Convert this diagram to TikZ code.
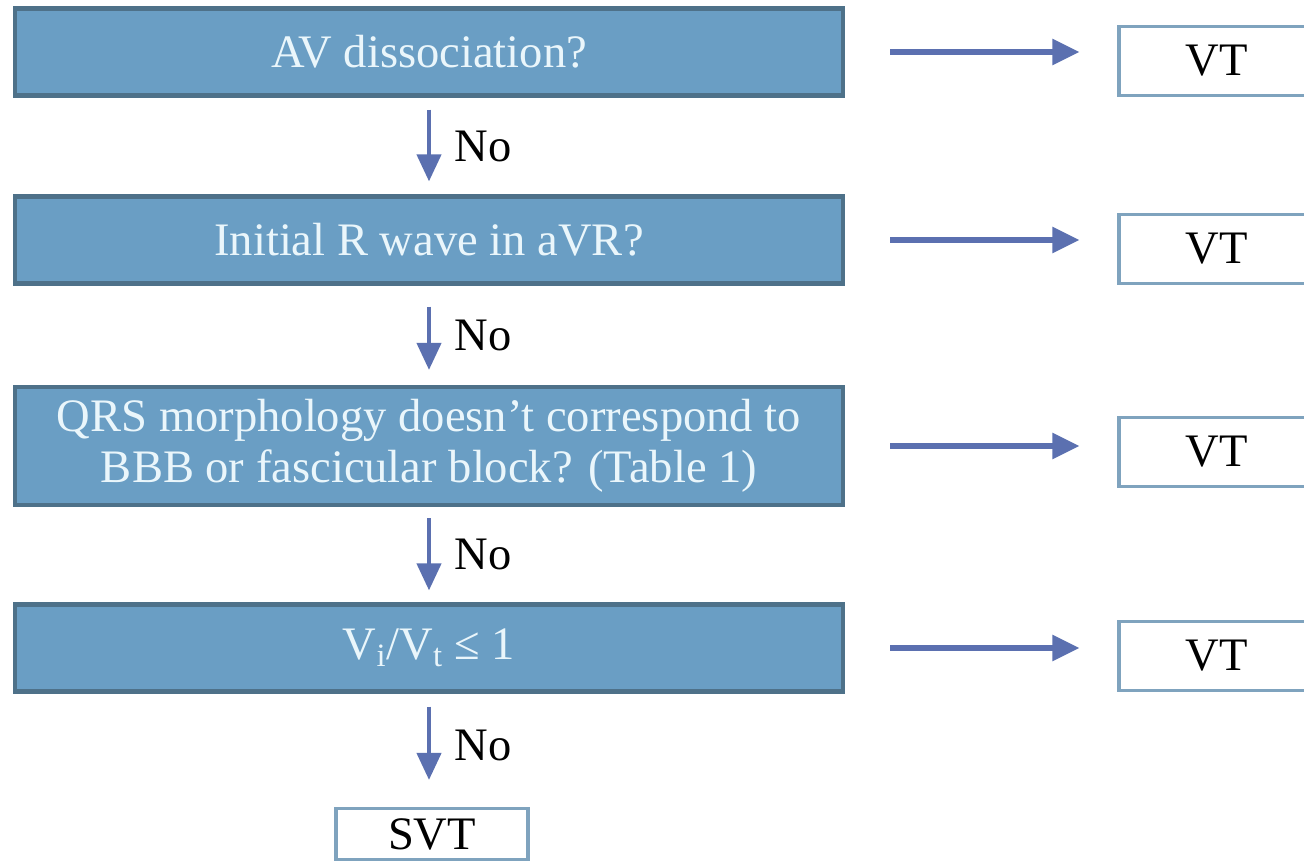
\documentclass[tikz,border=0pt]{standalone}
\usepackage{fontspec}
\setmainfont{Liberation Serif}
\usetikzlibrary{arrows.meta,positioning,calc}

\definecolor{boxfill}{HTML}{6A9EC4}
\definecolor{boxedge}{HTML}{4E7189}
\definecolor{boxtext}{HTML}{EAF6FB}
\definecolor{resedge}{HTML}{7FA3BE}
\definecolor{arrowblue}{HTML}{5B70B0}

\begin{document}
\begin{tikzpicture}[x=0.02cm,y=-0.02cm,
    font=\fontsize{26.5}{29}\selectfont,
    question/.style={draw=boxedge,fill=boxfill,line width=2.4pt,text=boxtext,
        minimum width=16.56cm,minimum height=1.74cm,align=center,inner sep=0pt},
    result/.style={draw=resedge,fill=white,line width=1.8pt,
        minimum width=3.92cm,minimum height=1.38cm,inner sep=0pt},
    flow/.style={draw=arrowblue,line width=3.2pt,-{Triangle[length=0.54cm,width=0.5cm]}},
    down/.style={draw=arrowblue,line width=2.4pt,-{Triangle[length=0.54cm,width=0.48cm]}},
    nolabel/.style={right,xshift=0.36cm}]
    \useasboundingbox (0,0) rectangle (1304,865);

    \node[question] (q1) at (429,52) {AV dissociation?};
    \node[question] (q2) at (429,240) {Initial R wave in aVR?};
    \node[question,minimum height=2.36cm] (q3) at (429,446)
        {QRS morphology doesn’t correspond to\\BBB or fascicular block? (Table 1)};
    \node[question] (q4) at (429,648) {V\textsubscript{i}/V\textsubscript{t} ≤ 1};

    \node[result] (vt1) at (1217,61) {VT};
    \node[result] (vt2) at (1217,249) {VT};
    \node[result] (vt3) at (1217,452) {VT};
    \node[result] (vt4) at (1217,656) {VT};
    \node[result,minimum width=3.84cm,minimum height=1.02cm] (svt) at (432,834) {SVT};

    % yes branches
    \draw[flow,shorten <=0.9cm,shorten >=0.76cm] (q1.east) -- (q1.east -| vt1.west);
    \draw[flow,shorten <=0.9cm,shorten >=0.76cm] (q2.east) -- (q2.east -| vt2.west);
    \draw[flow,shorten <=0.9cm,shorten >=0.76cm] (q3.east) -- (q3.east -| vt3.west);
    \draw[flow,shorten <=0.9cm,shorten >=0.76cm] (q4.east) -- (q4.east -| vt4.west);

    % no branches
    \draw[down,shorten <=0.24cm,shorten >=0.26cm] (q1.south) -- node[nolabel] {No} (q2.north);
    \draw[down,shorten <=0.42cm,shorten >=0.3cm] (q2.south) -- node[nolabel] {No} (q3.north);
    \draw[down,shorten <=0.22cm,shorten >=0.24cm] (q3.south) -- node[nolabel] {No} (q4.north);
    \draw[down,shorten <=0.26cm,shorten >=0.54cm] (q4.south) -- node[nolabel,yshift=0.1cm] {No} (q4.south |- svt.north);
\end{tikzpicture}
\end{document}
